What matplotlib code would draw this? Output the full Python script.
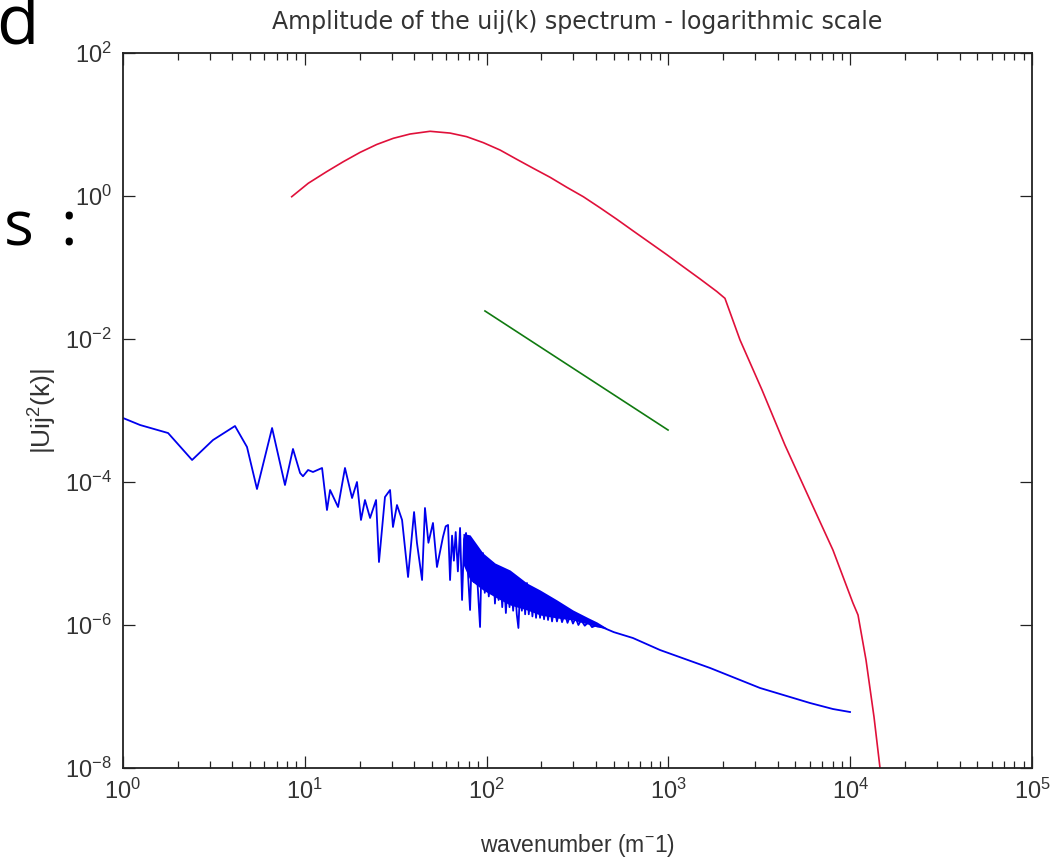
import numpy as np
import matplotlib
matplotlib.use("Agg")
import matplotlib.pyplot as plt
from matplotlib.ticker import LogLocator, NullLocator, NullFormatter

plt.rcParams['font.family'] = ['Liberation Sans', 'DejaVu Sans']
plt.rcParams['mathtext.fontset'] = 'custom'
plt.rcParams['mathtext.rm'] = 'Liberation Sans'
plt.rcParams['mathtext.it'] = 'Liberation Sans'

# spectrum values, stored as log10 (decades)
blue_logk = [0.000, 0.094, 0.248, 0.380, 0.495, 0.616, 0.682, 0.737, 0.820, 0.891,
             0.935, 0.974, 0.990, 1.018, 1.045, 1.095, 1.122, 1.139, 1.183, 1.221,
             1.260, 1.287, 1.309, 1.331, 1.359, 1.392, 1.408, 1.441, 1.469, 1.485,
             1.507, 1.535, 1.568, 1.601, 1.617, 1.645, 1.661, 1.680, 1.705, 1.727,
             1.760, 1.775, 1.788, 1.799, 1.810, 1.820, 1.830, 1.842, 1.854, 1.865,
             1.876, 1.887, 1.898, 1.909, 1.920, 1.930, 1.940, 1.952, 1.964, 1.972,
             1.980, 1.990, 2.000, 2.012, 2.024, 2.035, 2.046, 2.056, 2.066, 2.076,
             2.086, 2.096, 2.106, 2.116, 2.126, 2.136, 2.146, 2.156, 2.166, 2.175,
             2.184, 2.194, 2.203, 2.212, 2.222, 2.232, 2.242, 2.252, 2.262, 2.272,
             2.282, 2.294, 2.305, 2.316, 2.327, 2.338, 2.349, 2.360, 2.372, 2.387,
             2.400, 2.415, 2.430, 2.445, 2.460, 2.475, 2.490, 2.505, 2.520, 2.540,
             2.560, 2.580, 2.607, 2.700, 2.805, 2.954, 3.229, 3.504, 3.779, 3.905,
             3.999]
blue_logamp = [-3.105, -3.203, -3.315, -3.692, -3.413, -3.217, -3.510, -4.098, -3.245, -4.042,
               -3.538, -3.874, -3.920, -3.832, -3.860, -3.804, -4.392, -4.112, -4.350, -3.804,
               -4.224, -4.000, -4.531, -4.252, -4.503, -4.252, -5.119, -4.210, -4.112, -4.629,
               -4.322, -4.531, -5.329, -4.420, -4.853, -5.371, -4.364, -4.850, -4.573, -5.189,
               -4.769, -4.620, -4.601, -5.371, -4.750, -5.100, -4.700, -5.250, -4.643, -5.650,
               -4.800, -4.713, -5.300, -5.790, -4.900, -5.400, -5.000, -5.500, -6.028, -5.100,
               -4.993, -5.550, -5.150, -5.600, -5.200, -5.133, -5.700, -5.250, -5.650, -5.300,
               -5.750, -5.350, -5.832, -5.400, -5.750, -5.420, -5.800, -5.450, -5.850, -6.042,
               -5.500, -5.800, -5.450, -5.850, -5.413, -5.850, -5.550, -5.880, -5.580, -5.900,
               -5.620, -5.900, -5.660, -5.920, -5.680, -5.930, -5.720, -5.950, -5.750, -5.950,
               -5.800, -5.960, -5.840, -5.970, -5.870, -5.980, -5.900, -6.000, -5.930, -6.010,
               -5.960, -6.030, -6.000, -6.100, -6.182, -6.350, -6.601, -6.881, -7.091, -7.175,
               -7.217]

# where the blue spectrum oscillates too fast to resolve, it shows as a solid band
band_logk = [1.870, 1.909, 1.980, 2.046, 2.129, 2.222, 2.294, 2.387, 2.475, 2.560, 2.607, 2.660]
band_top = [-4.720, -4.740, -4.993, -5.133, -5.231, -5.413, -5.510, -5.650, -5.790, -5.900, -5.958, -6.040]
band_bottom = [-5.150, -5.371, -5.510, -5.608, -5.720, -5.790, -5.860, -5.902, -5.930, -5.990, -6.028, -6.050]

red_logk = [0.928, 1.019, 1.120, 1.212, 1.304, 1.395, 1.487, 1.579, 1.689, 1.799,
            1.890, 1.982, 2.074, 2.166, 2.257, 2.349, 2.441, 2.532, 2.624, 2.716,
            2.807, 2.899, 2.991, 3.082, 3.174, 3.266, 3.311, 3.394, 3.515, 3.641,
            3.779, 3.905, 4.015, 4.043, 4.087, 4.131, 4.164, 4.186]
red_logamp = [-0.010, 0.178, 0.340, 0.480, 0.610, 0.720, 0.807, 0.867, 0.905, 0.880,
              0.830, 0.746, 0.643, 0.513, 0.387, 0.262, 0.122, -0.010, -0.165, -0.325,
              -0.490, -0.655, -0.820, -0.990, -1.160, -1.335, -1.431, -2.014, -2.713, -3.483,
              -4.252, -4.951, -5.692, -5.860, -6.490, -7.287, -8.000, -8.380]

green_logk = [1.991, 2.998]
green_logamp = [-1.608, -3.273]

blue = '#0000ee'

fig = plt.figure(figsize=(10.59, 8.59), dpi=100)
ax = fig.add_axes([123/1059, 91/859, 909/1059, 715/859])

ax.loglog(10**np.array(blue_logk), 10**np.array(blue_logamp), color=blue, lw=1.3)
ax.fill_between(10**np.array(band_logk), 10**np.array(band_bottom), 10**np.array(band_top),
                color=blue, lw=0)
ax.loglog(10**np.array(red_logk), 10**np.array(red_logamp), color='#e0103a', lw=1.2)
ax.loglog(10**np.array(green_logk), 10**np.array(green_logamp), color='#107a10', lw=1.2)

ax.set_xlim(1, 1e5)
ax.set_ylim(1e-8, 1e2)
ax.set_yticks([1e-8, 1e-6, 1e-4, 1e-2, 1e0, 1e2])
ax.yaxis.set_minor_locator(NullLocator())
ax.xaxis.set_minor_locator(LogLocator(base=10, subs=np.arange(2, 10), numticks=20))
ax.xaxis.set_minor_formatter(NullFormatter())

ax.tick_params(which='both', direction='in', top=True, right=True, width=0.9, colors='#222222',
               labelcolor='#333333', labelsize=17)
ax.tick_params(which='major', length=8.5, pad=8)
ax.tick_params(which='minor', length=5)
for s in ax.spines.values():
    s.set_linewidth(1.3)
    s.set_color('#222222')

ax.set_title('Amplitude of the uij(k) spectrum - logarithmic scale', fontsize=17,
             family='DejaVu Sans', color='#333333', pad=17)
ax.set_xlabel('wavenumber (m$^{-}$1)', fontsize=16.5, color='#333333', labelpad=20)
ax.set_ylabel('|Uij$^{2}$(k)|', fontsize=19, color='#333333', labelpad=4)

# slide remnants around the figure
fig.text(-0.004, 1 - 43/859, 'd', fontsize=50, family='Open Sans', color='black', va='baseline')
fig.text(0.004, 1 - 246/859, 's', fontsize=45, family='Open Sans', color='black', va='baseline')
fig.text(0.057, 1 - 246/859, ':', fontsize=45, family='Open Sans', color='black', va='baseline')

fig.savefig('out.png', dpi=100)
